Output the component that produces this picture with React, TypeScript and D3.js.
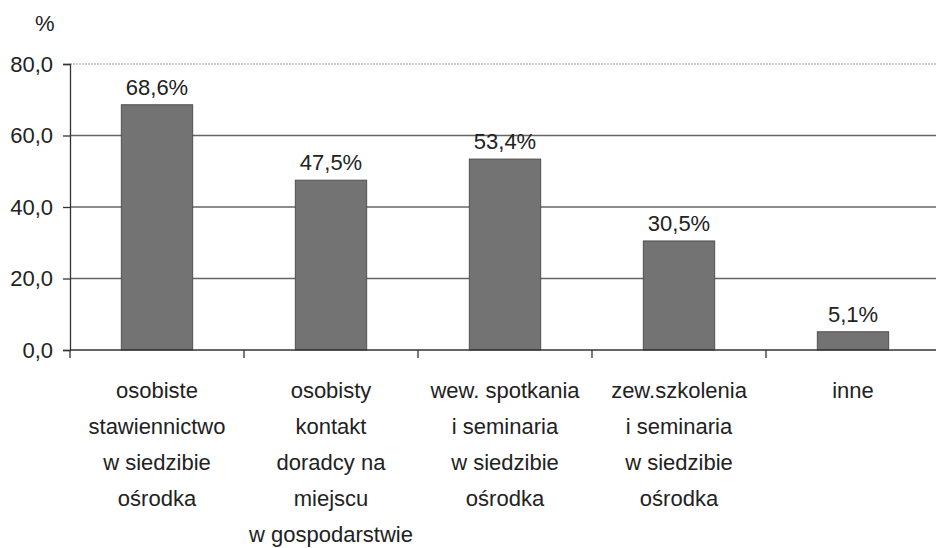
import { useEffect, useRef } from "react";
import * as d3 from "d3";

const categories: string[][] = [
    ["osobiste", "stawiennictwo", "w siedzibie", "ośrodka"],
    ["osobisty", "kontakt", "doradcy na", "miejscu", "w gospodarstwie"],
    ["wew. spotkania", "i seminaria", "w siedzibie", "ośrodka"],
    ["zew.szkolenia", "i seminaria", "w siedzibie", "ośrodka"],
    ["inne"],
];
const values = [68.6, 47.5, 53.4, 30.5, 5.1];
const valueLabels = ["68,6%", "47,5%", "53,4%", "30,5%", "5,1%"];
const yTicks = [0, 20, 40, 60, 80];
const yTickLabels = ["0,0", "20,0", "40,0", "60,0", "80,0"];

const W = 936;
const H = 548;
const FONT = "'Liberation Sans', Arial, sans-serif";

export default function App() {
    const svgRef = useRef<SVGSVGElement>(null);

    useEffect(() => {
        const svg = d3.select(svgRef.current);
        svg.selectAll("*").remove();

        const margin = { top: 64, left: 70, bottom: 198 };
        const plotW = 870; // runs past the right edge, as in the scan
        const plotH = H - margin.top - margin.bottom;

        const g = svg.append("g").attr("transform", `translate(${margin.left},${margin.top})`);

        const idx = values.map((_, i) => String(i));
        const x = d3.scaleBand().domain(idx).range([0, plotW]).paddingInner(0.59).paddingOuter(0.295);
        const y = d3.scaleLinear().domain([0, 80]).range([plotH, 0]);

        // gridlines
        yTicks.filter(t => t > 0).forEach(t => {
            g.append("line")
                .attr("x1", 0).attr("x2", plotW)
                .attr("y1", y(t)).attr("y2", y(t))
                .attr("stroke", t === 80 ? "#999" : "#666")
                .attr("stroke-width", t === 80 ? 1 : 1.3)
                .attr("stroke-dasharray", t === 80 ? "2,1" : null);
        });

        // bars
        g.selectAll(".bar")
            .data(values)
            .enter()
            .append("rect")
            .attr("x", (_, i) => x(String(i)) || 0)
            .attr("y", d => y(d))
            .attr("width", x.bandwidth())
            .attr("height", d => plotH - y(d))
            .attr("fill", "#737373")
            .attr("stroke", "#505050")
            .attr("stroke-width", 1);

        // value labels
        g.selectAll(".val")
            .data(values)
            .enter()
            .append("text")
            .attr("x", (_, i) => (x(String(i)) || 0) + x.bandwidth() / 2)
            .attr("y", d => y(d) - 10)
            .attr("text-anchor", "middle")
            .style("font-family", FONT)
            .style("font-size", "22px")
            .style("fill", "#222")
            .text((_, i) => valueLabels[i]);

        // y axis
        const yAxis = g.append("g")
            .call(d3.axisLeft(y).tickValues(yTicks).tickSize(7).tickPadding(10)
                .tickFormat((_, i) => yTickLabels[i]));
        yAxis.select(".domain").attr("stroke", "#333").attr("stroke-width", 1.3);
        yAxis.selectAll(".tick line").attr("stroke", "#333").attr("stroke-width", 1.3);
        yAxis.selectAll("text")
            .style("font-family", FONT)
            .style("font-size", "22px")
            .style("fill", "#222");

        // x axis line + boundary ticks
        g.append("line")
            .attr("x1", 0).attr("x2", plotW)
            .attr("y1", plotH).attr("y2", plotH)
            .attr("stroke", "#333").attr("stroke-width", 1.3);
        const step = x.step();
        d3.range(values.length + 1).forEach(i => {
            g.append("line")
                .attr("x1", i * step).attr("x2", i * step)
                .attr("y1", plotH).attr("y2", plotH + 8)
                .attr("stroke", "#333").attr("stroke-width", 1.3);
        });

        // category labels
        categories.forEach((lines, i) => {
            const cx = (x(String(i)) || 0) + x.bandwidth() / 2;
            const t = g.append("text")
                .attr("text-anchor", "middle")
                .style("font-family", FONT)
                .style("font-size", "22px")
                .style("fill", "#222");
            lines.forEach((line, j) => {
                t.append("tspan")
                    .attr("x", cx)
                    .attr("y", plotH + 48 + j * 36)
                    .text(line);
            });
        });

        // unit
        svg.append("text")
            .attr("x", 35).attr("y", 31)
            .style("font-family", FONT)
            .style("font-size", "22px")
            .style("fill", "#222")
            .text("%");
    }, []);

    return (
        <>
            <style>{`body{margin:0;background:#fff}`}</style>
            <svg ref={svgRef} width={W} height={H} style={{ display: "block", background: "#fff" }} />
        </>
    );
}
